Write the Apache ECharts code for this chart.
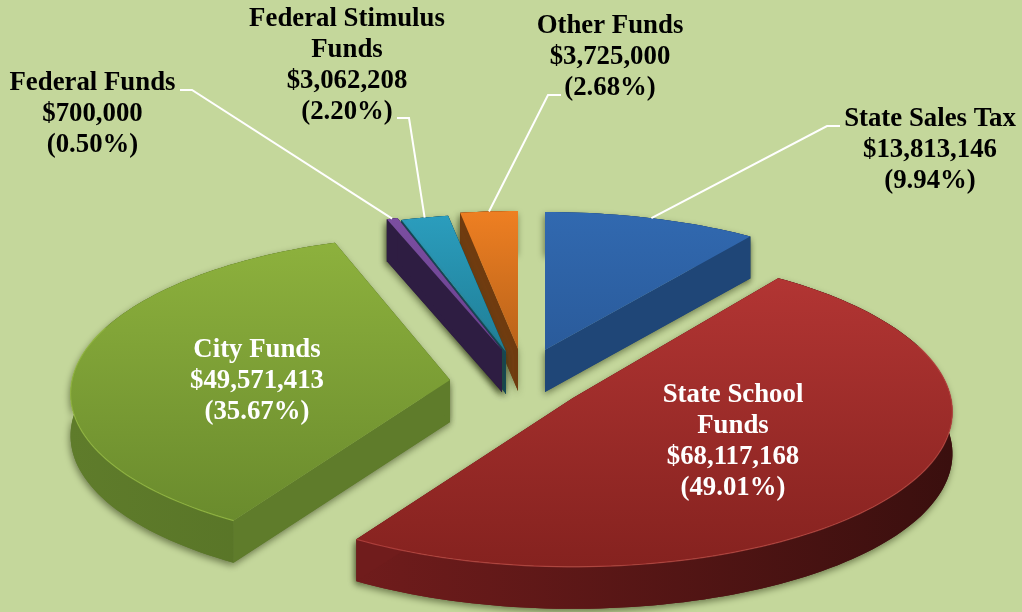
<!DOCTYPE html>
<html><head><meta charset="utf-8">
<style>html,body{margin:0;padding:0;background:#C4D79B}#c{width:1022px;height:612px}</style>
<script src="https://cdn.jsdelivr.net/npm/echarts@6/dist/echarts.min.js"></script>
</head><body><div id="c"></div>
<script>
// data
const names = [['State Sales Tax'],['State School','Funds'],['City Funds'],['Federal Funds'],['Federal Stimulus','Funds'],['Other Funds']];
const amounts = [13813146, 68117168, 49571413, 700000, 3062208, 3725000];
const shares = ['9.94%','49.01%','35.67%','0.50%','2.20%','2.68%'];
// order slices clockwise from 12 o'clock
const clockOrder = [0,1,2,3,4,5];
const paintOrder = [5,4,3,0,2,1];
// styling / layout
const apexX = [545,573,450,502,506,518];
const apexY = [350,398,380,350,352,349];
const depthScale = [1,1.055,1.05,1,1,1];
const topA = ['#3169B0','#B23533','#8DB13D','#7B4EA0','#2B9DBD','#EE7F22'];
const topB = ['#2A5B9B','#85221F','#6A8B2D','#6A4290','#1F7E96','#B9631A'];
const wallA = ['#1F4677','#701C1C','#5F7C2B','#2E1D42','#11485A','#6F3B0F'];
const wallB = ['#1D3F6C','#3A0F0E','#567226','#2A1A3C','#0E4050','#633409'];
const rimCol = ['#4A80C0','#C9524C','#A0C648','#8A60B0','#45B0CC','#F59A4A'];
const labelPos = [[930,150],[733,442],[257,381.5],[92.5,114.5],[347,65.5],[610,57]];
const labelCol = ['#000','#fff','#fff','#000','#000','#000'];
const elbows = {0:[[840,126],[827,126]],3:[[180,90],[192,90]],4:[[397,118],[409,118]],5:[[561,95],[548,95]]};
const RX=378, RY=149, PX=0.088, PY=0.074, H=42;

const total = amounts.reduce((a,b)=>a+b,0);
const startAng = {}; let acc=0;
clockOrder.forEach(i=>{startAng[i]=acc/total*360; acc+=amounts[i];});
function pt(i,deg,dz){
  const a=deg*Math.PI/180,u=Math.sin(a),v=-Math.cos(a);
  return [apexX[i]+RX*u*(1+PX*v), apexY[i]+RY*depthScale[i]*v*(1+PY*v)+(dz||0)];
}
function arc(i,a0,a1,dz){
  const n=Math.max(2,Math.ceil((a1-a0)/1.5)),o=[];
  for(let k=0;k<=n;k++)o.push(pt(i,a0+(a1-a0)*k/n,dz));
  return o;
}
const lin=(a,b,h)=>({type:'linear',x:0,y:0,x2:h?1:0,y2:h?0:1,colorStops:[{offset:0,color:a},{offset:1,color:b}]});
const shadow={shadowColor:'rgba(50,60,25,0.6)',shadowBlur:7,shadowOffsetX:-1,shadowOffsetY:3};

function renderSlice(params,api){
  const i=api.value(0), v=api.value(1);
  const a0=startAng[i], a1=a0+v/total*360;
  const top=arc(i,a0,a1,0), bot=arc(i,a0,a1,H);
  const ap=[apexX[i],apexY[i]], apb=[ap[0],ap[1]+H];
  const poly=(points,style)=>({type:'polygon',shape:{points},style,silent:true});
  const cut0=[ap,apb,bot[0],top[0]], cut1=[ap,apb,bot[bot.length-1],top[top.length-1]];
  const wall=top.concat(bot.slice().reverse());
  const wallFill=lin(wallA[i],wallB[i],true);
  const frontRim=arc(i,Math.max(a0,70),Math.min(a1,290),0);
  const children=[
    poly(cut0,Object.assign({fill:wallA[i]},shadow)),
    poly(cut1,Object.assign({fill:wallA[i]},shadow)),
    poly(wall,Object.assign({fill:wallFill},shadow)),
    poly(wall,{fill:wallFill}),
    poly(cut0,{fill:wallA[i]}),
    poly(cut1,{fill:wallA[i]}),
    poly([ap].concat(top),{fill:lin(topA[i],topB[i],false)})
  ];
  if(a1>70&&a0<290)children.push({type:'polyline',shape:{points:frontRim},style:{stroke:rimCol[i],lineWidth:1.2,fill:null,opacity:0.6},silent:true});
  return {type:'group',children};
}
function renderLabel(params,api){
  const i=api.value(0), v=api.value(1);
  const a0=startAng[i], mid=a0+v/total*180;
  const children=[];
  if(elbows[i]){
    children.push({type:'polyline',shape:{points:elbows[i].concat([pt(i,mid,0)])},
      style:{stroke:'#fff',lineWidth:2,fill:null},silent:true});
  }
  const text=names[i].concat(['$'+v.toLocaleString('en-US'),'('+shares[i]+')']).join('\n');
  children.push({type:'text',x:labelPos[i][0],y:labelPos[i][1],silent:true,
    style:{text,fill:labelCol[i],font:'bold 26.8px "Liberation Serif"',lineHeight:31,align:'center',verticalAlign:'middle'}});
  return {type:'group',children};
}
const chart=echarts.init(document.getElementById('c'),null,{width:1022,height:612});
chart.setOption({
  backgroundColor:'#C4D79B',
  animation:false,
  series:[
    {type:'custom',coordinateSystem:'none',renderItem:renderSlice,silent:true,z:1,clip:false,
     data:paintOrder.map(i=>[i,amounts[i]])},
    {type:'custom',coordinateSystem:'none',renderItem:renderLabel,silent:true,z:2,clip:false,
     data:clockOrder.map(i=>[i,amounts[i]])}
  ]
});
</script></body></html>
